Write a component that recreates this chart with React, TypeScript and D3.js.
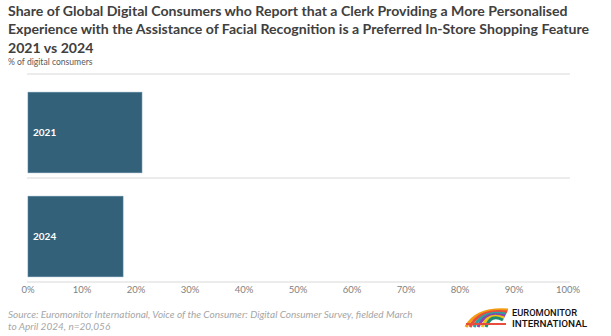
import React from "react";
import * as d3 from "d3";

const categories = ["2021", "2024"];
const values = [21.1, 17.6];
const tickValues = [0, 10, 20, 30, 40, 50, 60, 70, 80, 90, 100];
const titleLines = [
  "Share of Global Digital Consumers who Report that a Clerk Providing a More Personalised",
  "Experience with the Assistance of Facial Recognition is a Preferred In-Store Shopping Feature",
  "2021 vs 2024",
];
const subtitle = "% of digital consumers";
const sourceLines = [
  "Source: Euromonitor International, Voice of the Consumer: Digital Consumer Survey, fielded March",
  "to April 2024, n=20,056",
];
const logoColors = ["#f39c12", "#e74c3c", "#2aa3a0", "#8e44ad", "#f1c40f", "#1f8a70"];

const W = 611;
const H = 336;
const font = "Lato, 'Open Sans', sans-serif";

export default function App() {
  const x = d3.scaleLinear().domain([0, 100]).range([28, 568]);
  const y = d3.scaleBand<string>().domain(categories).range([74, 282]).padding(0);
  const bw = y.bandwidth();

  return (
    <svg width={W} height={H} style={{ position: "absolute", left: 0, top: 0, background: "#fff" }}>
      {titleLines.map((t, i) => (
        <text key={i} x={8} y={15.5 + i * 18.5} fontFamily={font} fontWeight={700} fontSize={14.1} fill="#404040">
          {t}
        </text>
      ))}
      <text x={8} y={64.5} fontFamily={font} fontSize={8.6} fill="#595959">{subtitle}</text>

      {[74, ...categories.map((c) => (y(c) as number) + bw)].map((gy, i) => (
        <line key={i} x1={27} x2={570} y1={gy} y2={gy} stroke="#d9d9d9" strokeWidth={1.2} />
      ))}

      {categories.map((c, i) => {
        const by = (y(c) as number) + bw * 0.175;
        const bh = bw * 0.775;
        return (
          <g key={c}>
            <rect x={x(0)} y={by} width={x(values[i]) - x(0)} height={bh} fill="#336179" stroke="#5a84a0" strokeWidth={0.6} />
            <text x={x(0) + 5} y={by + bh / 2 + 3.5} fontFamily={font} fontWeight={700} fontSize={10} fill="#ffffff">
              {c}
            </text>
          </g>
        );
      })}

      {tickValues.map((t) => (
        <text key={t} x={x(t)} y={293} textAnchor="middle" fontFamily={font} fontSize={9.5} fill="#7f7f7f">
          {t}%
        </text>
      ))}

      {sourceLines.map((s, i) => (
        <text key={i} x={8} y={318 + i * 12} fontFamily={font} fontStyle="italic" fontSize={10} fill="#a6a6a6">
          {s}
        </text>
      ))}

      <g transform="translate(466,306)">
        {logoColors.map((c, i) => (
          <path
            key={i}
            d={`M${i * 4} 21 Q ${10 + i * 3} ${2 + i} ${42 - i} ${4 + i * 2}`}
            fill="none"
            stroke={c}
            strokeWidth={3}
          />
        ))}
        <path d="M0 18 L40 18" stroke="#e74c3c" strokeWidth={2} />
        <text x={46} y={9.5} fontFamily="'Roboto', sans-serif" fontWeight={500} fontSize={9.5} fill="#111" textLength={65} lengthAdjust="spacingAndGlyphs">
          EUROMONITOR
        </text>
        <text x={46} y={20.5} fontFamily="'Roboto', sans-serif" fontWeight={500} fontSize={9.5} fill="#111" textLength={75} lengthAdjust="spacingAndGlyphs">
          INTERNATIONAL
        </text>
      </g>
    </svg>
  );
}
